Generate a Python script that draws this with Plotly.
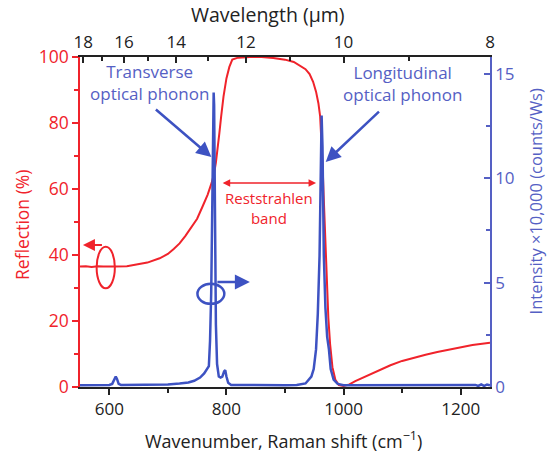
import plotly.graph_objects as go

# ---------------- data ----------------
refl_wn = [550, 560, 570, 580, 590, 600, 610, 630, 650, 665, 686, 700, 710, 720, 730, 740, 750,
           760, 768, 775, 779, 782, 785, 788, 791, 795, 800, 805, 810, 820, 840, 860, 880, 900,
           915, 925, 935, 942, 948, 953, 957, 960, 962, 964, 966, 968, 970, 972, 974, 977, 981,
           986, 992, 1000, 1010, 1020, 1035, 1050, 1065, 1080, 1100, 1120, 1140, 1160, 1180,
           1200, 1220, 1240, 1250]
refl_pct = [36.5, 36.6, 36.4, 36.6, 36.5, 36.6, 36.5, 36.6, 37.2, 37.7, 39.0, 40.3, 41.8, 43.5,
            45.8, 48.3, 51.0, 55.0, 58.3, 62.0, 64.8, 68.0, 72.0, 77.0, 82.0, 88.0, 93.5, 97.0,
            99.2, 99.8, 100.0, 100.0, 99.7, 99.2, 98.5, 97.5, 96.3, 94.8, 92.5, 89.5, 86.0, 82.0,
            76.0, 68.0, 58.0, 48.0, 40.0, 30.0, 21.0, 13.0, 6.0, 2.2, 0.6, 0.3, 0.8, 1.8, 3.0,
            4.2, 5.5, 6.6, 7.9, 8.9, 9.8, 10.6, 11.3, 12.1, 12.7, 13.2, 13.4]

raman_wn = [550, 570, 590, 600, 605, 608, 611, 613, 616, 620, 650, 680, 700, 720, 735, 745, 755,
            762, 767, 770, 772, 774, 776, 777.5, 778.2, 779, 780.5, 782, 784, 787, 790, 793, 796,
            798, 800, 803, 808, 850, 900, 920, 935, 945, 949, 953, 956, 959, 961, 962.5, 964,
            966.3, 969, 972, 975, 978, 983, 990, 1000, 1100, 1200, 1225, 1230, 1235, 1240, 1245,
            1250]
raman_int = [0.08, 0.08, 0.10, 0.10, 0.15, 0.35, 0.50, 0.40, 0.15, 0.10, 0.10, 0.10, 0.12, 0.17,
             0.22, 0.30, 0.45, 0.65, 0.85, 1.0, 2.2, 4.5, 9.0, 13.5, 14.1, 13.5, 8.0, 3.0, 1.1,
             0.5, 0.45, 0.5, 0.75, 0.8, 0.5, 0.2, 0.1, 0.08, 0.08, 0.10, 0.17, 0.5, 0.86, 1.8,
             3.5, 6.3, 10.0, 13.0, 11.5, 6.3, 3.8, 2.4, 1.8, 0.86, 0.35, 0.15, 0.08, 0.08, 0.08,
             0.10, 0.05, 0.12, 0.05, 0.12, 0.08]

x_ticks = [600, 800, 1000, 1200]
x_minor = [700, 900, 1100]
refl_ticks = [0, 20, 40, 60, 80, 100]
refl_minor = [10, 30, 50, 70, 90]
int_ticks = [0, 5, 10, 15]
int_minor = [2.5, 7.5, 12.5]
wl_ticks = [18, 16, 14, 12, 10, 8]
wl_minor = [17, 15, 13, 11, 9]

RED = "#F0232B"
BLUE = "#3D52C2"
BLUE_TXT = "#5560C4"
DARK = "#222222"
FONT = "Open Sans"

fig = go.Figure()
fig.add_trace(go.Scatter(x=refl_wn, y=refl_pct, mode="lines",
                         line=dict(color=RED, width=2), xaxis="x", yaxis="y",
                         showlegend=False, hoverinfo="skip"))
fig.add_trace(go.Scatter(x=raman_wn, y=raman_int, mode="lines",
                         line=dict(color=BLUE, width=2.5), xaxis="x", yaxis="y2",
                         showlegend=False, hoverinfo="skip"))
# dummy trace to activate top axis
fig.add_trace(go.Scatter(x=[550, 1250], y=[None, None], xaxis="x2", yaxis="y",
                         showlegend=False, hoverinfo="skip"))

fig.update_layout(
    width=549, height=455,
    margin=dict(l=80, r=59, t=57, b=68),
    paper_bgcolor="white", plot_bgcolor="white",
    font=dict(family=FONT, size=17, color=DARK),
    xaxis=dict(range=[550, 1250], showline=True, linecolor=DARK, linewidth=1.5,
               mirror=False, showgrid=False, zeroline=False,
               tickmode="array", tickvals=x_ticks, ticks="outside", ticklen=6,
               tickwidth=1.5, tickcolor=DARK, tickfont=dict(size=17, color=DARK),
               minor=dict(tickvals=x_minor, ticks="outside", ticklen=4,
                          tickwidth=1.5, tickcolor=DARK)),
    xaxis2=dict(range=[550, 1250], overlaying="x", side="top", anchor="y",
                showline=True, linecolor=DARK, linewidth=1.5, showgrid=False,
                zeroline=False, tickmode="array",
                tickvals=[10000 / w for w in wl_ticks],
                ticktext=[str(w) for w in wl_ticks],
                ticks="inside", ticklen=6, tickwidth=1.5, tickcolor=DARK,
                tickfont=dict(size=17, color=DARK),
                minor=dict(tickvals=[10000 / w for w in wl_minor], ticks="inside",
                           ticklen=4, tickwidth=1.5, tickcolor=DARK)),
    yaxis=dict(range=[0, 100], showline=True, linecolor=RED, linewidth=1.5,
               showgrid=False, zeroline=False, tickmode="array", tickvals=refl_ticks,
               ticks="outside", ticklen=6, tickwidth=1.5, tickcolor=RED,
               tickfont=dict(size=17.5, color=RED),
               minor=dict(tickvals=refl_minor, ticks="outside", ticklen=4,
                          tickwidth=1.5, tickcolor=RED)),
    yaxis2=dict(range=[0, 15.8], overlaying="y", side="right", anchor="x",
                showline=True, linecolor=BLUE_TXT, linewidth=1.5, showgrid=False,
                zeroline=False, tickmode="array", tickvals=int_ticks,
                ticks="inside", ticklen=6, tickwidth=1.5, tickcolor=BLUE_TXT,
                tickfont=dict(size=17, color=BLUE_TXT),
                minor=dict(tickvals=int_minor, ticks="inside", ticklen=4,
                           tickwidth=1.5, tickcolor=BLUE_TXT)),
)

C = dict(xanchor="center", yanchor="middle", showarrow=False)
annotations = [
    # axis titles
    dict(text="Reflection (%)", x=-0.1415, y=0.491, xref="paper", yref="paper",
         textangle=-90, font=dict(size=17.5, color=RED), **C),
    dict(text="Intensity ×10,000 (counts/Ws)", x=1.112, y=0.562, xref="paper", yref="paper",
         textangle=-90, font=dict(size=16.5, color=BLUE_TXT), **C),
    dict(text="Wavelength (µm)", x=0.4585, y=1.13, xref="paper", yref="paper",
         font=dict(size=19.5, color=DARK), **C),
    dict(text="Wavenumber, Raman shift (cm<sup>−1</sup>)", x=0.496, y=-0.1606,
         xref="paper", yref="paper", font=dict(size=18, color=DARK), **C),
    # labels
    dict(text="Transverse<br>optical phonon", x=669, y=92.3, xref="x", yref="y",
         font=dict(size=17, color=BLUE_TXT), **C),
    dict(text="Longitudinal<br>optical phonon", x=1100, y=92.0, xref="x", yref="y",
         font=dict(size=17, color=BLUE_TXT), **C),
    dict(text="Reststrahlen<br>band", x=873, y=54.2, xref="x", yref="y",
         font=dict(size=15, color=RED), **C),
    # arrows
    dict(text="", x=774.3, y=69.7, ax=677, ay=84.5, xref="x", yref="y", axref="x", ayref="y",
         showarrow=True, arrowhead=2, arrowsize=1.2, arrowwidth=2.5, arrowcolor=BLUE),
    dict(text="", x=969.5, y=68.2, ax=1063, ay=83.9, xref="x", yref="y", axref="x", ayref="y",
         showarrow=True, arrowhead=2, arrowsize=1.2, arrowwidth=2.5, arrowcolor=BLUE),
    dict(text="", x=953, y=61.8, ax=791, ay=61.8, xref="x", yref="y", axref="x", ayref="y",
         showarrow=True, arrowhead=2, startarrowhead=2, arrowside="end+start",
         arrowsize=1, startarrowsize=1, arrowwidth=1.5, arrowcolor=RED),
    dict(text="", x=555, y=43, ax=590, ay=43, xref="x", yref="y", axref="x", ayref="y",
         showarrow=True, arrowhead=2, arrowsize=1.2, arrowwidth=2, arrowcolor=RED),
    dict(text="", x=840, y=5.03, ax=782, ay=5.03, xref="x", yref="y2", axref="x", ayref="y2",
         showarrow=True, arrowhead=2, arrowsize=1.2, arrowwidth=2.5, arrowcolor=BLUE),
]
fig.update_layout(annotations=annotations)

fig.update_layout(shapes=[
    dict(type="circle", xref="x", yref="y", x0=578.4, x1=609.5, y0=29.9, y1=42.5,
         line=dict(color=RED, width=2)),
    dict(type="circle", xref="x", yref="y2", x0=750.5, x1=796.4, y0=3.98, y1=4.94,
         line=dict(color=BLUE, width=2.5)),
])

fig.write_html("out.html")
